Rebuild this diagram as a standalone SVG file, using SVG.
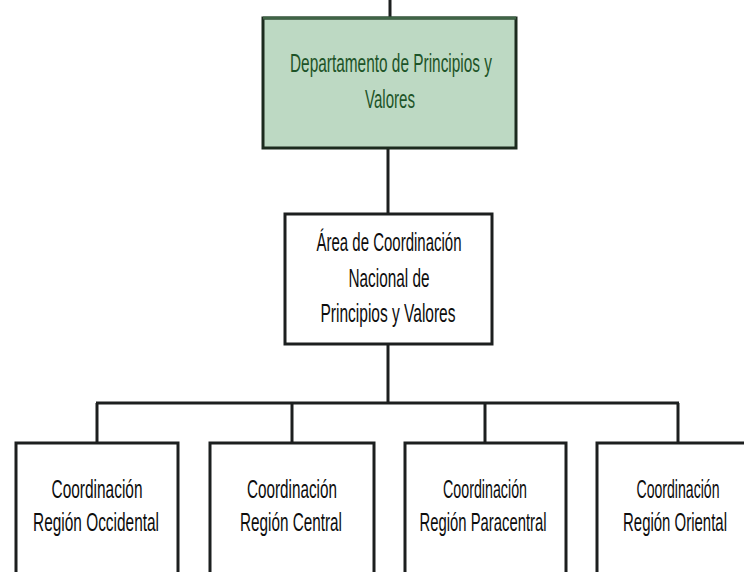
<svg xmlns="http://www.w3.org/2000/svg" width="744" height="572" viewBox="0 0 744 572">
  <style>
    .bg { fill: #ffffff; }
    .box { fill: #ffffff; stroke: #1c1f1f; stroke-width: 3; }
    .dept { fill: #bdd9c3; stroke: #1c2a1e; stroke-width: 3; }
    .topedge { stroke: #3f6446; stroke-width: 3; }
    .conn { stroke: #1c1f1f; stroke-width: 3; fill: none; }
    .t { font-family: "Liberation Sans", Arial, sans-serif; font-size: 26px; fill: #0d0d0d; text-anchor: middle; }
    .tg { fill: #1d5428; }
  </style>
  <rect class="bg" x="0" y="0" width="744" height="572"/>

  <g id="connectors">
    <line class="conn" x1="390" y1="0" x2="390" y2="18"/>
    <line class="conn" x1="388" y1="148" x2="388" y2="214"/>
    <line class="conn" x1="388" y1="344" x2="388" y2="403"/>
    <line class="conn" x1="96" y1="403" x2="679" y2="403"/>
    <line class="conn" x1="97" y1="403" x2="97" y2="443"/>
    <line class="conn" x1="292" y1="403" x2="292" y2="443"/>
    <line class="conn" x1="485" y1="403" x2="485" y2="443"/>
    <line class="conn" x1="678" y1="403" x2="678" y2="443"/>
  </g>

  <g id="n-departamento">
    <rect class="dept" x="263" y="18" width="253" height="130"/>
    <line class="topedge" x1="263" y1="18" x2="516" y2="18"/>
    <text class="t tg" x="391" y="72" textLength="202" lengthAdjust="spacingAndGlyphs">Departamento de Principios y</text>
    <text class="t tg" x="390" y="108" textLength="50" lengthAdjust="spacingAndGlyphs">Valores</text>
  </g>

  <g id="n-area">
    <rect class="box" x="285" y="214" width="207" height="130"/>
    <text class="t" x="389" y="251" textLength="145" lengthAdjust="spacingAndGlyphs">Área de Coordinación</text>
    <text class="t" x="389" y="287" textLength="81" lengthAdjust="spacingAndGlyphs">Nacional de</text>
    <text class="t" x="388" y="322" textLength="135" lengthAdjust="spacingAndGlyphs">Principios y Valores</text>
  </g>

  <g id="n-occidental">
    <rect class="box" x="16" y="443" width="162" height="140"/>
    <text class="t" x="97" y="498" textLength="91" lengthAdjust="spacingAndGlyphs">Coordinación</text>
    <text class="t" x="96" y="531" textLength="126" lengthAdjust="spacingAndGlyphs">Región Occidental</text>
  </g>

  <g id="n-central">
    <rect class="box" x="210" y="443" width="164" height="140"/>
    <text class="t" x="292" y="498" textLength="90" lengthAdjust="spacingAndGlyphs">Coordinación</text>
    <text class="t" x="291" y="531" textLength="102" lengthAdjust="spacingAndGlyphs">Región Central</text>
  </g>

  <g id="n-paracentral">
    <rect class="box" x="405" y="443" width="161" height="140"/>
    <text class="t" x="485" y="498" textLength="84" lengthAdjust="spacingAndGlyphs">Coordinación</text>
    <text class="t" x="483" y="531" textLength="127" lengthAdjust="spacingAndGlyphs">Región Paracentral</text>
  </g>

  <g id="n-oriental">
    <rect class="box" x="597" y="443" width="149" height="140"/>
    <text class="t" x="678" y="498" textLength="83" lengthAdjust="spacingAndGlyphs">Coordinación</text>
    <text class="t" x="675" y="531" textLength="104" lengthAdjust="spacingAndGlyphs">Región Oriental</text>
  </g>
</svg>
